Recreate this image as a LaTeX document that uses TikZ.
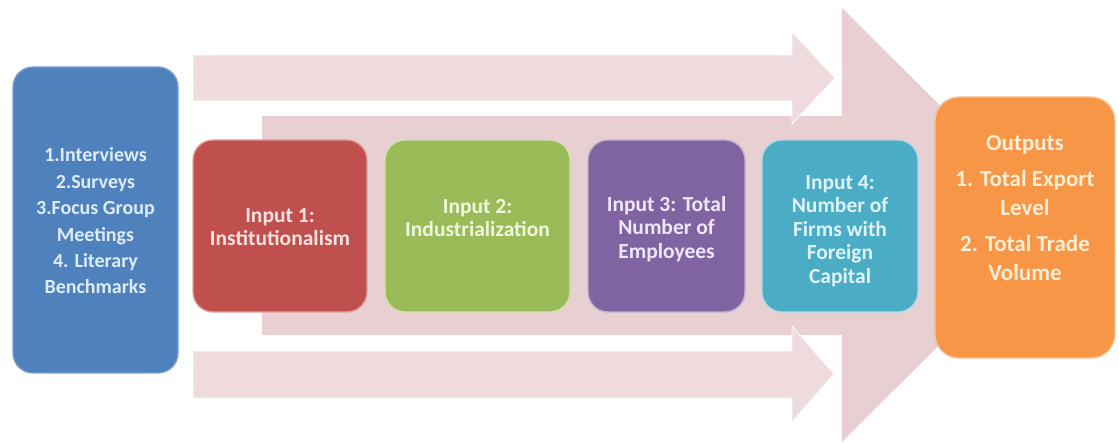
\documentclass[tikz,border=0pt]{standalone}
\usepackage{fontspec}
\setmainfont{Carlito}
\definecolor{pinkL}{RGB}{239,219,221}
\definecolor{pinkM}{RGB}{231,207,210}
\definecolor{cBlue}{RGB}{79,129,189}
\definecolor{cRed}{RGB}{192,80,77}
\definecolor{cGreen}{RGB}{155,187,89}
\definecolor{cPurple}{RGB}{128,100,162}
\definecolor{cTeal}{RGB}{75,172,198}
\definecolor{cOrange}{RGB}{247,150,70}
\definecolor{tBlue}{RGB}{222,236,250}
\definecolor{tRed}{RGB}{252,226,224}
\definecolor{tGreen}{RGB}{238,248,222}
\definecolor{tPurple}{RGB}{240,230,252}
\definecolor{tTeal}{RGB}{222,244,250}
\definecolor{tOrange}{RGB}{255,238,212}
\begin{document}
\begin{tikzpicture}[x=1pt,y=-1pt,
  box/.style={line width=1.3pt, rounded corners=20pt, inner sep=0pt},
  txt/.style={align=center, inner sep=0pt, font=\bfseries\fontsize{21.5}{23.5}\selectfont},
  sidearrow/.style={fill=pinkL, draw=white, line width=0.8pt},
  bigarrow/.style={fill=pinkM}]
\useasboundingbox (0,0) rectangle (1119,443);
\fill[white] (0,0) rectangle (1119,443);

% big middle arrow
\fill[bigarrow] (262,116) -- (842,116) -- (842,8) -- (1060,225) -- (842,442) -- (842,335) -- (262,335) -- cycle;
% top and bottom arrows
\path[sidearrow] (193,55) -- (792,55) -- (792,32) -- (835,78) -- (792,124) -- (792,101) -- (193,101) -- cycle;
\path[sidearrow] (193,351) -- (792,351) -- (792,326) -- (834,374) -- (792,422) -- (792,398) -- (193,398) -- cycle;

% boxes
\node[box, fill=cBlue, draw=cBlue!75!white, minimum width=165pt, minimum height=306pt] (src) at (95.5,220) {};
\node[box, fill=cRed, draw=cRed!55!white, minimum width=174pt, minimum height=172pt] (in1) at (280,226) {};
\node[box, fill=cGreen, draw=cGreen!45!white, minimum width=185pt, minimum height=172pt] (in2) at (477.5,226) {};
\node[box, fill=cPurple, draw=cPurple!50!white, minimum width=157pt, minimum height=172pt] (in3) at (666.5,226) {};
\node[box, fill=cTeal, draw=cTeal!45!white, minimum width=156pt, minimum height=172pt] (in4) at (840,226) {};
\node[box, fill=cOrange, draw=cOrange!60!white, rounded corners=24pt, minimum width=180pt, minimum height=261pt] (out) at (1025,227.5) {};

% texts
\node[txt, text=tBlue, font=\bfseries\fontsize{20}{26.4}\selectfont] (srct) at (95.5,221) {1.Interviews\\2.Surveys\\3.Focus Group\\Meetings\\4. Literary\\Benchmarks};
\node[txt, text=tRed] (in1t) at (280,227) {Input 1:\\Institutionalism};
\node[txt, text=tGreen] (in2t) at (477.5,218) {Input 2:\\Industrialization};
\node[txt, text=tPurple] (in3t) at (666.5,229) {Input 3: Total\\Number of\\Employees};
\node[txt, text=tTeal] (in4t) at (840,231) {Input 4:\\Number of\\Firms with\\Foreign\\Capital};
\node[txt, text=tOrange, font=\bfseries\fontsize{23}{29}\selectfont] (outt) at (1025,208) {Outputs\\[7pt]1. Total Export\\Level\\[7pt]2. Total Trade\\Volume};
\end{tikzpicture}
\end{document}
